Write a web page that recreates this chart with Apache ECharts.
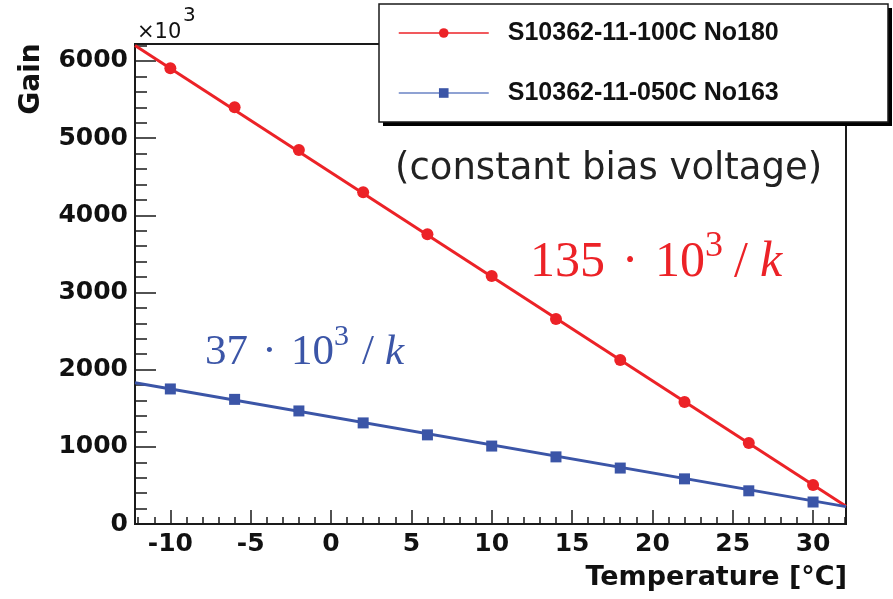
<!DOCTYPE html>
<html><head><meta charset="utf-8">
<script src="https://cdn.jsdelivr.net/npm/echarts@6/dist/echarts.min.js"></script>
<style>html,body{margin:0;padding:0;background:#fff}#c{width:893px;height:599px}</style>
</head><body><div id="c"></div>
<script>
// Data
const temps = [-10, -6, -2, 2, 6, 10, 14, 18, 22, 26, 30];
const gain100 = [5905, 5400, 4845, 4300, 3755, 3215, 2655, 2125, 1580, 1050, 505];
const gain050 = [1750, 1615, 1465, 1310, 1155, 1010, 870, 725, 585, 430, 285];
const fitX = [-12.2, 32.05];
const fit100 = [6200, 230];
const fit050 = [1830, 225];
const xMajorTicks = [-10, -5, 0, 5, 10, 15, 20, 25, 30];
const xMinorTicks = [-12,-11,-10,-9,-8,-7,-6,-5,-4,-3,-2,-1,0,1,2,3,4,5,6,7,8,9,10,11,12,13,14,15,16,17,18,19,20,21,22,23,24,25,26,27,28,29,30,31,32];
const yMajorTicks = [0, 1000, 2000, 3000, 4000, 5000, 6000];
const yMinorTicks = [0,200,400,600,800,1000,1200,1400,1600,1800,2000,2200,2400,2600,2800,3000,3200,3400,3600,3800,4000,4200,4400,4600,4800,5000,5200,5400,5600,5800,6000,6200];
const name100 = 'S10362-11-100C No180';
const name050 = 'S10362-11-050C No163';

const RED = '#ec2227';
const BLUE = '#3b55a7';
const AX = '#1a1a1a';
const tickFont = {fontFamily: 'DejaVu Sans', fontWeight: 'bold', fontSize: 25, color: '#111', formatter: v => String(v)};

const chart = echarts.init(document.getElementById('c'), null, {renderer: 'canvas'});
const pair = (xs, ys) => xs.map((x, i) => [x, ys[i]]);

const option = {
  animation: false,
  backgroundColor: '#fff',
  grid: {left: 135, right: 47, top: 44, bottom: 75, show: true, borderColor: AX, borderWidth: 2, backgroundColor: 'transparent'},
  xAxis: [
    {type: 'value', min: -12.2, max: 32.05, position: 'bottom',
     axisLine: {show: true, onZero: false, lineStyle: {color: AX, width: 2}},
     axisTick: {show: true, inside: true, length: 14, customValues: xMajorTicks, lineStyle: {color: AX, width: 1.5}},
     axisLabel: {show: true, margin: 8, customValues: xMajorTicks, ...tickFont},
     splitLine: {show: false}},
    {type: 'value', min: -12.2, max: 32.05, position: 'bottom',
     axisLine: {show: false, onZero: false},
     axisTick: {show: true, inside: true, length: 7, customValues: xMinorTicks, lineStyle: {color: AX, width: 1.5}},
     axisLabel: {show: false}, splitLine: {show: false}}
  ],
  yAxis: [
    {type: 'value', min: 0, max: 6220, position: 'left',
     axisLine: {show: true, onZero: false, lineStyle: {color: AX, width: 2}},
     axisTick: {show: true, inside: true, length: 21, customValues: yMajorTicks, lineStyle: {color: AX, width: 1.5}},
     axisLabel: {show: true, margin: 7, customValues: yMajorTicks, ...tickFont},
     splitLine: {show: false}},
    {type: 'value', min: 0, max: 6220, position: 'left',
     axisLine: {show: false, onZero: false},
     axisTick: {show: true, inside: true, length: 12, customValues: yMinorTicks, lineStyle: {color: AX, width: 1.5}},
     axisLabel: {show: false}, splitLine: {show: false}}
  ],
  legend: {
    z: 60, left: 398, top: 18, orient: 'vertical', padding: 0,
    itemWidth: 90, itemHeight: 12, itemGap: 30, selectedMode: false,
    textStyle: {fontFamily: 'Liberation Sans', fontWeight: 'bold', fontSize: 25, color: '#111', lineHeight: 30, padding: [0, 0, 0, 14]},
    data: [
      {name: name100, lineStyle: {color: RED, width: 1.5, opacity: 1}, itemStyle: {color: RED}},
      {name: name050, lineStyle: {color: '#6a83c4', width: 1.5, opacity: 1}, itemStyle: {color: BLUE}}
    ]
  },
  series: [
    {type: 'line', name: 'fit100', xAxisIndex: 0, yAxisIndex: 0, data: pair(fitX, fit100), symbol: 'none', silent: true, z: 2,
     lineStyle: {color: RED, width: 3}},
    {type: 'line', name: 'fit050', xAxisIndex: 0, yAxisIndex: 0, data: pair(fitX, fit050), symbol: 'none', silent: true, z: 2,
     lineStyle: {color: BLUE, width: 3}},
    {type: 'line', name: name100, xAxisIndex: 0, yAxisIndex: 0, data: pair(temps, gain100), symbol: 'circle', symbolSize: 12, z: 3,
     itemStyle: {color: RED}, lineStyle: {width: 0, opacity: 0}},
    {type: 'line', name: name050, xAxisIndex: 0, yAxisIndex: 0, data: pair(temps, gain050), symbol: 'rect', symbolSize: 11, z: 3,
     itemStyle: {color: BLUE}, lineStyle: {width: 0, opacity: 0}}
  ],
  graphic: {
    z: 50,
    elements: [
      {type: 'rect', z: 50, shape: {x: 383, y: 8, width: 509, height: 118}, style: {fill: '#000'}},
      {type: 'rect', z: 51, shape: {x: 379, y: 4, width: 509, height: 118}, style: {fill: '#fff', stroke: AX, lineWidth: 1.5}},
      {type: 'text', z: 55, x: 137, y: 33, style: {text: '×10', font: '21px "DejaVu Sans"', fill: '#111', verticalAlign: 'middle'}},
      {type: 'text', z: 55, x: 183, y: 16, style: {text: '3', font: '20px "DejaVu Sans"', fill: '#111', verticalAlign: 'middle'}},
      {type: 'text', z: 55, x: 32, y: 79, rotation: Math.PI / 2, style: {text: 'Gain', font: 'bold 28px "DejaVu Sans"', fill: '#111', align: 'center', verticalAlign: 'middle'}},
      {type: 'text', z: 55, x: 847, y: 578, style: {text: 'Temperature [°C]', font: 'bold 27px "DejaVu Sans"', fill: '#111', align: 'right', verticalAlign: 'middle'}},
      {type: 'text', z: 55, x: 395, y: 169, style: {text: '(constant bias voltage)', font: '37px "DejaVu Sans"', fill: '#222', verticalAlign: 'middle'}},
      {type: 'text', z: 55, x: 530, y: 263, style: {text: '135\u2004·\u200410', font: '50px "Liberation Serif"', fill: RED, verticalAlign: 'middle'}},
      {type: 'text', z: 55, x: 705, y: 247, style: {text: '3', font: '36px "Liberation Serif"', fill: RED, verticalAlign: 'middle'}},
      {type: 'text', z: 55, x: 734, y: 263, style: {text: '/', font: '50px "Liberation Serif"', fill: RED, verticalAlign: 'middle'}},
      {type: 'text', z: 55, x: 760, y: 263, style: {text: 'k', font: 'italic 50px "Liberation Serif"', fill: RED, verticalAlign: 'middle'}},
      {type: 'text', z: 55, x: 205, y: 353, style: {text: '37\u2004·\u200410', font: '43px "Liberation Serif"', fill: BLUE, verticalAlign: 'middle'}},
      {type: 'text', z: 55, x: 334, y: 337, style: {text: '3', font: '30px "Liberation Serif"', fill: BLUE, verticalAlign: 'middle'}},
      {type: 'text', z: 55, x: 362, y: 353, style: {text: '/', font: '43px "Liberation Serif"', fill: BLUE, verticalAlign: 'middle'}},
      {type: 'text', z: 55, x: 385, y: 353, style: {text: 'k', font: 'italic 43px "Liberation Serif"', fill: BLUE, verticalAlign: 'middle'}}
    ]
  }
};
chart.setOption(option);
</script>
</body></html>
